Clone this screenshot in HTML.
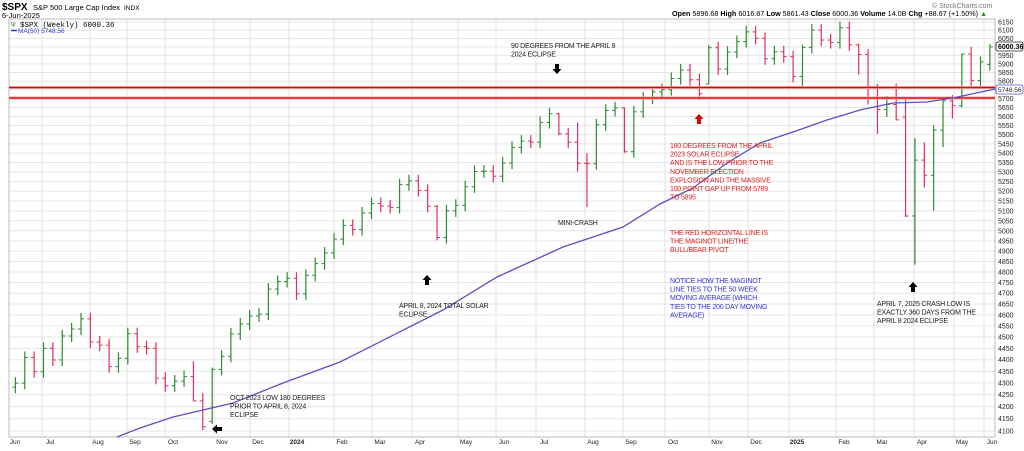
<!DOCTYPE html>
<html><head><meta charset="utf-8">
<style>
html,body{margin:0;padding:0;background:#fff;}
body{width:1024px;height:446px;overflow:hidden;font-family:"Liberation Sans",sans-serif;}
svg text{font-family:"Liberation Sans",sans-serif;}
</style></head>
<body>
<svg id="c" width="1024" height="446" xmlns="http://www.w3.org/2000/svg">
<rect width="1024" height="446" fill="#fff"/>
<g id="grid"></g>
<g id="bars"></g>
<g id="over"></g>
<text x="2" y="10" font-size="10" font-weight="bold">$SPX</text>
<text x="33" y="10" font-size="7.5">S&amp;P 500 Large Cap Index</text>
<text x="124" y="10" font-size="6.5">INDX</text>
<text x="2" y="18" font-size="7.5">6-Jun-2025</text>
<text x="11" y="27" font-size="7.5" font-family="Liberation Mono" style="font-family:'Liberation Mono',monospace"><tspan fill="#2e8b2e">Ψ</tspan> $SPX (Weekly) 6000.36</text>
<line x1="11" y1="30.5" x2="17" y2="30.5" stroke="#3333cc" stroke-width="1.5"/>
<text x="18" y="33" font-size="6.5" fill="#3333cc">MA(50) 5748.56</text>
<text x="932" y="8" font-size="7" fill="#777">© StockCharts.com</text>
<text x="672" y="16" font-size="7.2"><tspan font-weight="bold">Open</tspan> 5896.68 <tspan font-weight="bold">High</tspan> 6016.87 <tspan font-weight="bold">Low</tspan> 5861.43 <tspan font-weight="bold">Close</tspan> 6000.36 <tspan font-weight="bold">Volume</tspan> 14.0B <tspan font-weight="bold">Chg</tspan> +88.67 (+1.50%) <tspan fill="#2e8b2e">▲</tspan></text>
</svg>
<script>
var NS="http://www.w3.org/2000/svg";
function el(p,t,a,txt){var e=document.createElementNS(NS,t);for(var k in a)e.setAttribute(k,a[k]);if(txt!=null)e.textContent=txt;document.getElementById(p).appendChild(e);return e;}
function Y(p){return 22+Math.log(6150/p)*1008.6;}
var L=9,R=995,T=19,B=437;
for(var p=4100;p<=6150;p+=50){var y=Y(p);el('grid','line',{x1:L,x2:R,y1:y,y2:y,stroke:'#e6e6e6','stroke-width':1});
 el('grid','text',{x:998,y:y+2.5,'font-size':7,fill:'#222'},p);}
var months=[["Jun",15],["Jul",50],["Aug",98],["Sep",135],["Oct",173],["Nov",222],["Dec",258],["2024",297],["Feb",342],["Mar",380],["Apr",420],["May",466],["Jun",504],["Jul",544],["Aug",593],["Sep",631],["Oct",673],["Nov",717],["Dec",756],["2025",797],["Feb",844],["Mar",882],["Apr",922],["May",962],["Jun",992]];
months.forEach(function(m,i){var gx=m[1]-8; if(i>0) el('grid','line',{x1:gx,x2:gx,y1:T,y2:B,stroke:'#e0e0e0','stroke-width':1});
 var b=(m[0]=="2024"||m[0]=="2025");el('grid','text',{x:m[1],y:444,'font-size':6.5,'text-anchor':'middle','font-weight':b?'bold':'normal',fill:'#222'},m[0]);});
el('grid','rect',{x:L,y:T,width:R-L,height:B-T,fill:'none',stroke:'#bbb','stroke-width':1});
var C=[4299,4410,4348,4450,4399,4505,4536,4582,4478,4464,4370,4406,4515,4457,4450,4320,4288,4308,4327,4224,4117,4358,4415,4514,4559,4595,4604,4719,4755,4770,
4697,4784,4840,4891,4959,5027,5006,5089,5137,5124,5117,5234,5254,5204,5123,4967,5100,5128,5223,5303,5305,5278,5347,5431,5465,5460,5567,5615,5505,5459,5346,5344,5554,5634,5648,5408,5626,5703,5738,5751,5815,5864,5808,5728,5995,5870,5969,6032,6090,6051,5930,5971,
5942,5827,5997,6101,6041,6026,6115,6013,5955,5770,5639,5667,5581,5074,5363,5283,5525,5687,5660,5958,5803,5912,6000];
var ov={19:[4327,4393,4223,4224],20:[4224,4256,4103,4117],21:[4139,4366,4128,4358],45:[5123,5130,4953,4967],
58:[5615,5620,5497,5505],60:[5459,5566,5302,5346],61:[5346,5400,5119,5344],65:[5648,5651,5402,5408],74:[5783,6012,5783,5995],
84:[5827,6014,5773,5997],90:[6013,6020,5837,5955],91:[5955,5987,5667,5770],92:[5770,5783,5504,5639],93:[5639,5715,5597,5667],94:[5667,5786,5581,5581],
95:[5597,5703,5069,5074],96:[5074,5481,4835,5363],97:[5363,5459,5220,5283],98:[5283,5551,5101,5525],99:[5525,5700,5433,5687],
100:[5687,5720,5589,5660],101:[5660,5958,5650,5958],102:[5958,6000,5767,5803],103:[5803,5944,5767,5912],104:[5897,6017,5861,6000]};
var prev=4282;
for(var i=0;i<C.length;i++){var o,h,l,c;
 if(ov[i]){o=ov[i][0];h=ov[i][1];l=ov[i][2];c=ov[i][3];}
 else{o=prev;c=C[i];h=Math.max(o,c)*1.006;l=Math.min(o,c)*0.994;}
 var x=15.4+i*9.37, col=(c>=prev)?'#2e8b2e':'#e0305a';
 el('bars','line',{x1:x,x2:x,y1:Y(h),y2:Y(l),stroke:col,'stroke-width':1.2});
 el('bars','line',{x1:x-3,x2:x,y1:Y(o),y2:Y(o),stroke:col,'stroke-width':1});
 el('bars','line',{x1:x,x2:x+3,y1:Y(c),y2:Y(c),stroke:col,'stroke-width':1});
 prev=c;}
[87.5,98].forEach(function(y){el('over','line',{x1:L,x2:R,y1:y,y2:y,stroke:'#f4a0a0','stroke-width':3});el('over','line',{x1:L,x2:R,y1:y,y2:y,stroke:'#e00000','stroke-width':1.3});});
el('over','polyline',{points:"117,437 140,428 173,417 203,410 233,403 283,383 340,362 443,310 497,277 563,247 623,227 660,204 693,188 727,163 760,143 793,132 827,120 860,110 893,103 927,102 953,98 995,89",fill:'none',stroke:'#5a50c0','stroke-width':1.3});
el('over','rect',{x:996,y:42,width:27,height:9,fill:'#fff',stroke:'#222','stroke-width':0.8,rx:2});
el('over','text',{x:998,y:49,'font-size':7,'font-weight':'bold'},"6000.36");
el('over','rect',{x:996,y:85,width:27,height:9,fill:'#fff',stroke:'#5a50c0','stroke-width':0.8,rx:2});
el('over','text',{x:998,y:92,'font-size':6.5,fill:'#222'},"5748.56");
function tx(x,y,lines,col){lines.forEach(function(s,k){el('over','text',{x:x,y:y+k*8.6,'font-size':7,fill:col,'letter-spacing':'-0.2'},s);});}
tx(511,48,["90 DEGREES FROM THE APRIL 8","2024 ECLIPSE"],'#222');
tx(670,148,["180 DEGREES FROM THE APRIL","2023 SOLAR ECLIPSE","AND IS THE LOW PRIOR TO THE","NOVEMBER ELECTION","EXPLOSION AND THE MASSIVE","100 POINT GAP UP FROM 5789","TO 5895"],'#e02020');
tx(670,235,["THE RED HORIZONTAL LINE IS","THE MAGINOT LINE/THE","BULL/BEAR PIVOT"],'#e02020');
tx(670,283,["NOTICE HOW THE MAGINOT","LINE TIES TO THE 50 WEEK","MOVING AVERAGE (WHICH","TIES TO THE 200 DAY MOVING","AVERAGE)"],'#3333dd');
tx(877,306,["APRIL 7, 2025 CRASH LOW IS","EXACTLY 360 DAYS FROM THE","APRIL 8 2024 ECLIPSE"],'#222');
tx(558,225,["MINI-CRASH"],'#222');
tx(399,308,["APRIL 8, 2024 TOTAL SOLAR","ECLIPSE"],'#222');
tx(230,400,["OCT 2023 LOW 180 DEGREES","PRIOR TO APRIL 8, 2024","ECLIPSE"],'#222');
function arrowUp(x,y,col){el('over','polygon',{points:(x-4.5)+","+(y+5)+" "+x+","+y+" "+(x+4.5)+","+(y+5)+" "+(x+2)+","+(y+5)+" "+(x+2)+","+(y+10)+" "+(x-2)+","+(y+10)+" "+(x-2)+","+(y+5),fill:col});}
function arrowDown(x,y,col){el('over','polygon',{points:(x-4.5)+","+(y+5)+" "+x+","+(y+10)+" "+(x+4.5)+","+(y+5)+" "+(x+2)+","+(y+5)+" "+(x+2)+","+y+" "+(x-2)+","+y+" "+(x-2)+","+(y+5),fill:col});}
arrowDown(557,64,'#000');
arrowUp(699,114,'#e00000');
arrowUp(913,282,'#000');
arrowUp(427,275,'#000');
el('over','polygon',{points:"212,429 217,424.5 217,427 222,427 222,431 217,431 217,433.5",fill:'#000'});
</script>
</body></html>
